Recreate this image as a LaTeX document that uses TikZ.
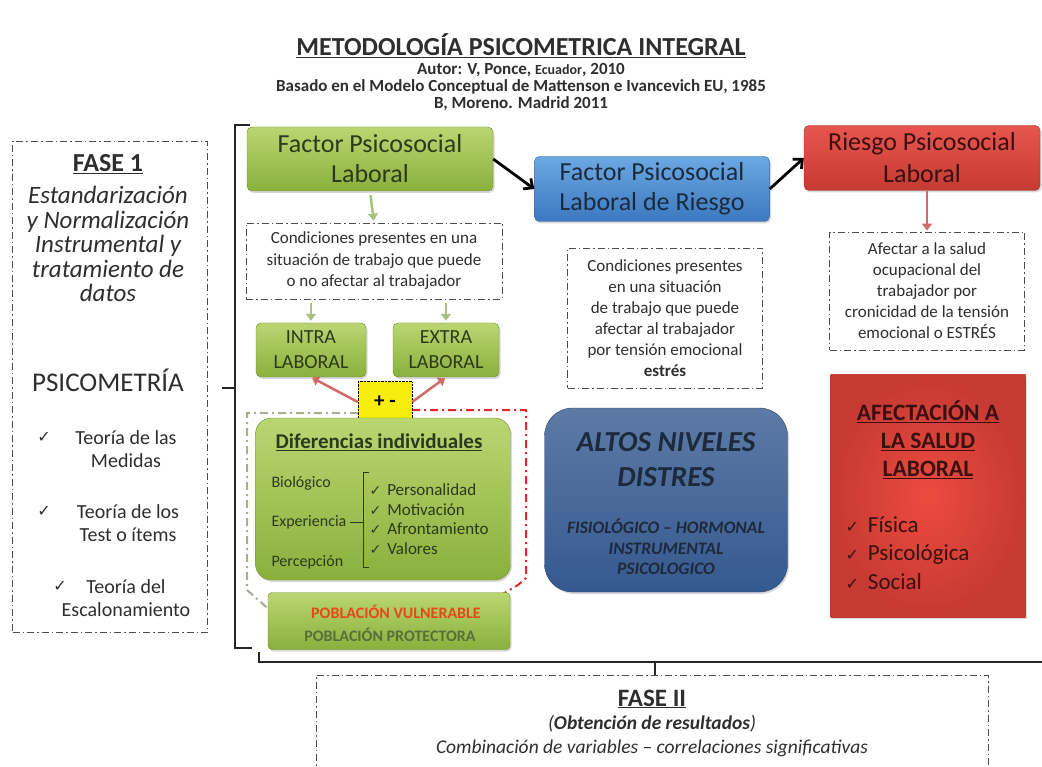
\documentclass[tikz,border=0pt]{standalone}
\usepackage{fontspec}
\setmainfont{Carlito}
\newfontfamily\symb{DejaVu Sans}
\usepackage{xcolor}
\usetikzlibrary{positioning,arrows.meta,shadows}

\definecolor{verdeA}{HTML}{BAD672}
\definecolor{verdeB}{HTML}{8AB03C}
\definecolor{verdeFl}{HTML}{A9C27F}
\definecolor{verdeTxt}{HTML}{2B3A1C}
\definecolor{verdeOsc}{HTML}{55703A}
\definecolor{azulA}{HTML}{6CA8E2}
\definecolor{azulB}{HTML}{3B78C0}
\definecolor{azulTxt}{HTML}{1C2A3C}
\definecolor{azulOsc}{HTML}{35598F}
\definecolor{rojoA}{HTML}{E6564E}
\definecolor{rojoB}{HTML}{C53A33}
\definecolor{rojoC}{HTML}{EE4A3E}
\definecolor{rojoTxt}{HTML}{3A1010}
\definecolor{rojoFl}{HTML}{D06B68}
\definecolor{rojoLinea}{HTML}{E3262E}
\definecolor{naranja}{HTML}{E9461C}
\definecolor{grisVerde}{HTML}{A4AE94}
\definecolor{amarillo}{HTML}{F7EE10}
\definecolor{texto}{HTML}{2E2E2E}

\newcommand{\fs}[2]{\fontsize{#1}{#2}\selectfont}
\newcommand{\chk}[1][14]{{\symb\fontsize{#1}{#1}\selectfont ✓}}

\begin{document}
\begin{tikzpicture}[x=1pt, y=-1pt,
    caja/.style={rounded corners=5pt, align=center, drop shadow={opacity=0.3, shadow xshift=1.5pt, shadow yshift=-2pt}},
    cverde/.style={caja, draw=verdeB!80!black, top color=verdeA, bottom color=verdeB, text=verdeTxt},
    cazul/.style={caja, draw=azulB!80!black, top color=azulA, bottom color=azulB, text=azulTxt},
    crojo/.style={caja, draw=rojoB!80!black, top color=rojoA, bottom color=rojoB, text=rojoTxt},
    punteada/.style={draw=black!70, line width=0.8pt, dash pattern=on 7pt off 3pt on 1.5pt off 3pt, align=center, text=texto},
    flechaV/.style={draw=verdeFl, line width=2.5pt, -{Triangle[length=7pt, width=10pt]}, shorten <=4pt, shorten >=2pt},
    flechaR/.style={draw=rojoFl, line width=2.5pt, -{Triangle[length=7pt, width=10pt]}, shorten >=1pt},
    flechaN/.style={draw=black, line width=2.8pt, -{Straight Barb[length=7pt, width=13pt]}},
    llave/.style={draw=black!85, line width=1.6pt},
    grisdd/.style={draw=grisVerde, line width=2pt, dash pattern=on 8pt off 4pt on 2pt off 4pt},
    rojodd/.style={draw=rojoLinea, line width=2pt, dash pattern=on 8pt off 4pt on 2pt off 4pt}]

    \useasboundingbox (0,0) rectangle (1042,767);

    % title
    \node[font=\fs{26}{30}\bfseries, text=texto] (titulo) at (521,46) {\underline{METODOLOGÍA PSICOMETRICA INTEGRAL}};
    \node[font=\fs{17}{17}\bfseries, text=texto, align=center] (autor) at (521,87)
        {Autor: V, Ponce, {\fs{14}{17}Ecuador}, 2010\\Basado en el Modelo Conceptual  de Mattenson e Ivancevich  EU, 1985\\B, Moreno. Madrid 2011};

    % fase 1
    \node[punteada, minimum width=195pt, minimum height=491pt] (fase1) at (110,387) {};
    \node[font=\fs{26}{30}\bfseries, text=texto] (f1tit) at (108,164) {\underline{FASE 1}};
    \node[font=\fs{25}{24.5}\itshape, text=texto, align=center] (f1txt) at (108,244) {Estandarización\\y Normalización\\Instrumental y\\tratamiento de\\datos};
    \node[font=\fs{27}{30}, text=texto] (psico) at (108,380) {PSICOMETRÍA};
    \node[font=\fs{20}{23}, text=texto, align=center] (teo1) at (126,449) {Teoría de las\\Medidas};
    \node[font=\fs{20}{23}, text=texto, align=center] (teo2) at (128,523) {Teoría de los\\Test o ítems};
    \node[font=\fs{20}{23}, text=texto, align=center] (teo3) at (126,598) {Teoría del\\Escalonamiento};
    \node[text=texto] (ck1) at (44,437) {\chk[16]};
    \node[text=texto] (ck2) at (44,511) {\chk[16]};
    \node[text=texto] (ck3) at (60,586) {\chk[16]};

    % brackets
    \draw[llave] (250,125) -- (235,125) -- (235,648) -- (252,648);
    \draw[llave] (235,388) -- (222,388);
    \draw[llave] (259,652) -- (259,662) -- (1042,662);
    \draw[llave] (655,662) -- (655,675);

    % upper boxes
    \node[cverde, minimum width=246pt, minimum height=64pt, font=\fs{26}{30}] (fpl) at (370,159) {Factor Psicosocial\\Laboral};
    \node[cazul, minimum width=235pt, minimum height=65pt, font=\fs{26}{30}] (fplr) at (652,189) {Factor Psicosocial\\Laboral de Riesgo};
    \node[crojo, minimum width=236pt, minimum height=65pt, font=\fs{26}{32}] (rpl) at (922,158) {Riesgo Psicosocial\\Laboral};
    \draw[flechaN] (fpl.east) -- (fplr.west);
    \draw[flechaN] (fplr.east) -- (rpl.west);

    % left column
    \node[punteada, minimum width=256pt, minimum height=76pt, font=\fs{17}{21.5}] (cond) at (374,261)
        {Condiciones presentes en una\\situación de trabajo que puede\\o no afectar al trabajador};
    \draw[flechaV] (fpl.south) -- (cond.north);
    \node[cverde, minimum width=110pt, minimum height=54pt, font=\fs{20}{25}] (intra) at (311,350) {INTRA\\LABORAL};
    \node[cverde, minimum width=106pt, minimum height=54pt, font=\fs{20}{25}] (extra) at (446,350) {EXTRA\\LABORAL};
    \draw[flechaV] (cond.south -| intra.north) -- (intra.north);
    \draw[flechaV] (cond.south -| extra.north) -- (extra.north);

    \draw[grisdd] (358,413) -- (247,413) -- (247,590) -- (290,628) -- (300,634);
    \draw[rojodd, -{Straight Barb[length=4pt, width=7pt]}] (412,410) -- (526,410) -- (526,578) -- (518,585) -- (486,604);

    \node[draw=black, densely dotted, fill=amarillo, minimum width=54pt, minimum height=41pt, font=\fs{21}{24}\bfseries] (masmenos) at (385,402) {+ -};
    \draw[flechaR] (masmenos.west) -- (intra.south);
    \draw[flechaR] (masmenos.east) -- (extra.south);

    \node[cverde, rounded corners=16pt, minimum width=255pt, minimum height=162pt] (difer) at (383,499) {};
    \node[font=\fs{21}{24}\bfseries, text=verdeTxt] (dtit) at (379,442) {\underline{Diferencias individuales}};
    \node[anchor=west, font=\fs{16}{19}, text=verdeTxt] (bio) at (268,483) {Biológico};
    \node[anchor=west, font=\fs{16}{19}, text=verdeTxt] (exper) at (268,522) {Experiencia};
    \node[anchor=west, font=\fs{16}{19}, text=verdeTxt] (perc) at (268,562) {Percepción};
    \draw[verdeTxt, line width=0.6pt] (369,472) -- (363,472) -- (363,567) -- (369,567);
    \draw[verdeTxt, line width=0.6pt] (exper.east) -- (363,522);
    \node[anchor=west, align=left, font=\fs{17}{19.5}, text=verdeTxt] (rasgos) at (366,519)
        {\chk\hspace{6pt}Personalidad\\\chk\hspace{6pt}Motivación\\\chk\hspace{6pt}Afrontamiento\\\chk\hspace{6pt}Valores};

    \node[cverde, rounded corners=4pt, minimum width=242pt, minimum height=57pt] (pobl) at (389,621) {};
    \node[font=\fs{16}{18}\bfseries, text=naranja] (vulner) at (396,612) {POBLACIÓN VULNERABLE};
    \node[font=\fs{16}{18}\bfseries, text=verdeOsc] (protect) at (390,635) {POBLACIÓN PROTECTORA};

    % middle column
    \node[punteada, minimum width=195pt, minimum height=140pt, font=\fs{17}{21}] (condr) at (665,318)
        {Condiciones presentes\\en una situación\\de trabajo que puede\\afectar al trabajador\\por tensión emocional\\\textbf{estrés}};
    \node[caja, rounded corners=28pt, draw=azulOsc!80!black, top color=azulOsc!80!white, bottom color=azulOsc,
          minimum width=243pt, minimum height=184pt] (altos) at (666,500) {};
    \node[font=\fs{29}{35}\bfseries\itshape, text=azulTxt, align=center] (altostit) at (666,460) {ALTOS NIVELES\\DISTRES};
    \node[font=\fs{17.5}{20.5}\bfseries\itshape, text=azulTxt, align=center] (altossub) at (666,547) {FISIOLÓGICO – HORMONAL\\INSTRUMENTAL\\PSICOLOGICO};

    % right column
    \node[punteada, minimum width=195pt, minimum height=118pt, font=\fs{17}{21}] (afectar) at (927,291)
        {Afectar a la salud\\ocupacional del\\trabajador por\\cronicidad de la tensión\\emocional o ESTRÉS};
    \draw[flechaR] (rpl.south -| afectar.north) -- (afectar.north);
    \node[drop shadow={opacity=0.3, shadow xshift=1.5pt, shadow yshift=-2pt}, inner color=rojoC, outer color=rojoB,
          minimum width=195pt, minimum height=242pt] (afect) at (928,496) {};
    \node[font=\fs{23.5}{28}\bfseries, text=rojoTxt, align=center] (afectit) at (928,440) {\underline{AFECTACIÓN A}\\\underline{LA SALUD}\\\underline{LABORAL}};
    \node[anchor=west, align=left, font=\fs{23}{28.5}, text=rojoTxt] (afectlist) at (842,553)
        {\chk[16]\hspace{9pt}Física\\\chk[16]\hspace{9pt}Psicológica\\\chk[16]\hspace{9pt}Social};

    % fase 2
    \node[font=\fs{19.5}{23.5}\itshape, text=texto, align=center] (fase2) at (652,723)
        {{\fs{25}{28}\upshape\bfseries\underline{FASE II}}\\(\textbf{Obtención de resultados})\\Combinación de variables – correlaciones significativas};
    \draw[punteada] (316,790) -- (316,675) -- (988,675) -- (988,790);
\end{tikzpicture}
\end{document}
